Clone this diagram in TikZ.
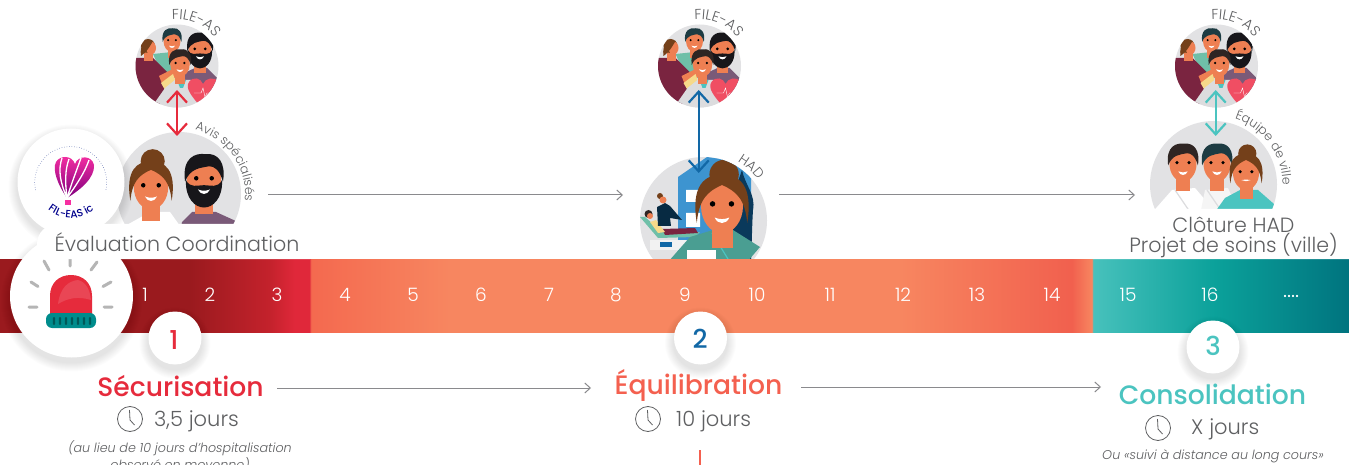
\documentclass[tikz,border=0pt]{standalone}
\usepackage{fontspec}
\setmainfont{Poppins Light}[ItalicFont={Poppins Light Italic},BoldFont={Poppins Medium}]
\usetikzlibrary{arrows.meta,decorations.text}
\definecolor{cgray}{HTML}{5F6062}
\definecolor{cline}{HTML}{8A8A8D}
\definecolor{cdisc}{HTML}{E2E2E4}
\definecolor{cred}{HTML}{E62B3C}
\definecolor{corange}{HTML}{F4604F}
\definecolor{cteal}{HTML}{4BC4C0}
\definecolor{cblue}{HTML}{1268A6}
\definecolor{cskin}{HTML}{EE7F52}
\definecolor{cbrown}{HTML}{74401A}
\definecolor{cblack}{HTML}{17161A}
\definecolor{cdark}{HTML}{2F2523}
\definecolor{cdteal}{HTML}{1D3B42}
\definecolor{cbord}{HTML}{7A2440}
\definecolor{cpurp}{HTML}{7A5A78}
\definecolor{cmint}{HTML}{6FBFA8}
\definecolor{ccoat}{HTML}{DCDCDE}
\definecolor{cheart}{HTML}{F04E63}
\definecolor{cnurse}{HTML}{4A9E92}
\definecolor{cbuild}{HTML}{3D94D0}
\definecolor{cyell}{HTML}{F6D98A}
\definecolor{bA}{HTML}{9A1A1E}
\definecolor{bB}{HTML}{C4222C}
\definecolor{bC}{HTML}{E0283A}
\definecolor{bD}{HTML}{F4694F}
\definecolor{bE}{HTML}{F78660}
\definecolor{bF}{HTML}{F1604E}
\definecolor{bG}{HTML}{47C1BC}
\definecolor{bH}{HTML}{0BA19A}
\definecolor{bI}{HTML}{00747F}
\definecolor{cray}{HTML}{B5B5B5}
\pgfdeclarehorizontalshading{barshade}{100bp}{
  color(0bp)=(bA); color(32.04bp)=(bA); color(35.01bp)=(bB); color(35.93bp)=(bC); color(36.49bp)=(bC);
  color(36.51bp)=(bD); color(41.68bp)=(bE); color(58.36bp)=(bE); color(64.73bp)=(bF); color(65.47bp)=(bE);
  color(65.51bp)=(bG); color(70.03bp)=(bH); color(75bp)=(bI); color(100bp)=(bI)}
\tikzset{
  x=1pt,y=-1pt,
  flow/.style={draw=cline,line width=1pt,-{Straight Barb[length=5.5pt,width=10pt]}},
  dbl/.style={line width=2.2pt,{Straight Barb[length=11pt,width=20pt]}-{Straight Barb[length=11pt,width=20pt]}},
  num/.style={text=white,font=\fontsize{18.5}{18.5}\selectfont,inner sep=0pt},
  labeltext/.style={text=cgray,font=\fontsize{20.6}{20}\selectfont,inner sep=0pt,align=center},
  titletext/.style={font=\bfseries\fontsize{26.6}{28}\selectfont,inner sep=0pt},
  daytext/.style={text=cgray,font=\fontsize{21}{22}\selectfont,inner sep=0pt,anchor=west},
  notetext/.style={text=cgray,font=\itshape\fontsize{12.7}{14}\selectfont,inner sep=0pt},
  stepnum/.style={font=\bfseries\fontsize{26}{26}\selectfont,inner sep=0pt},
}
\newcommand\softdisc[3]{%
  \foreach \i in {1,...,9}{\fill[black,opacity=0.011] (#1,#2+5) circle[radius=#3pt+10pt-\i pt];}
  \fill[white] (#1,#2) circle[radius=#3pt];}
\newcommand\manhead[5]{%
  \begin{scope}[shift={(#1,#2)},scale=#3]
    \fill[cskin] (-5,8) rectangle (5,20);
    \fill[cskin] (0,0) ellipse[x radius=10pt,y radius=13pt];
    \ifnum#5=1
      \fill[cblack] (-10.5,0) .. controls (-11,11) and (-5,16) .. (0,16) .. controls (5,16) and (11,11) .. (10.5,0) .. controls (8,5) and (4,3) .. (0,3) .. controls (-4,3) and (-8,5) .. (-10.5,0) -- cycle;
    \fi
    \fill[#4] (-11,1) .. controls (-13,-13) and (-5,-16) .. (1,-15) .. controls (8,-16) and (13,-10) .. (11,1) .. controls (9,-6) and (6,-8) .. (3,-8) .. controls (-2,-7) and (-8,-7) .. (-11,1) -- cycle;
    \fill[black] (-4.5,-1) circle[radius=1.3pt] (4.5,-1) circle[radius=1.3pt];
    \fill[white] (-3.5,5.5) .. controls (-1,6.5) and (1,6.5) .. (3.5,5.5) .. controls (2,9) and (-2,9) .. (-3.5,5.5) -- cycle;
  \end{scope}}
\newcommand\womanhead[5]{%
  \begin{scope}[shift={(#1,#2)},scale=#3]
    \fill[cbrown] (1,-15) circle[radius=7pt];
    \fill[cskin] (-5,8) rectangle (5,20);
    \fill[cskin] (0,0) ellipse[x radius=10pt,y radius=13pt];
    \fill[cbrown] (-12,8) .. controls (-15,-10) and (-8,-15) .. (0,-15) .. controls (8,-15) and (15,-10) .. (12,8) .. controls (11,-3) and (7,-7) .. (0,-10) .. controls (-7,-7) and (-11,-3) .. (-12,8) -- cycle;
    \fill[black] (-4.5,-1) circle[radius=1.3pt] (4.5,-1) circle[radius=1.3pt];
    \fill[#4] (-3.5,5.5) .. controls (-1,6.5) and (1,6.5) .. (3.5,5.5) .. controls (2,#5) and (-2,#5) .. (-3.5,5.5) -- cycle;
  \end{scope}}
\newcommand\groupdisc[2]{%
  \begin{scope}[shift={(#1,#2)}]
    \fill[cdisc] (0,0) circle[radius=41.5pt];
    \begin{scope}
      \clip (0,0) circle[radius=41.5pt];
      \fill[cmint] (-24,-12) -- (-5,-14) -- (8,-6) -- (10,10) -- (-12,14) -- cycle;
      \manhead{-5}{-25}{0.85}{cdteal}{0}
      \fill[cbord] (-43,-8) -- (-24,-8) -- (-10,6) -- (-6,14) -- (-18,42) -- (-43,42) -- cycle;
      \fill[cskin] (-24,-14) rectangle (-33,-5);
      \fill[cbrown] (-29,-20) circle[radius=7pt];
      \fill[cskin] (-26,-18) ellipse[x radius=5pt,y radius=6.5pt];
      \fill[cbrown] (-36,-10) .. controls (-38,-22) and (-30,-27) .. (-24,-25) .. controls (-27,-20) and (-30,-14) .. (-36,-10) -- cycle;
      \fill[cpurp] (5,8) -- (18,2) -- (30,2) -- (42,14) -- (42,30) -- (10,32) -- cycle;
      \manhead{23}{-16}{1.15}{cblack}{1}
      \fill[cskin] (-18,10) -- (-2,2) -- (0,10) -- (-14,20) -- cycle;
      \fill[cyell] (-16,17) -- (-4,8) -- (-2,14) -- (-12,24) -- cycle;
      \fill[ccoat] (-26,42) -- (-12,22) -- (-2,14) -- (14,14) -- (24,30) -- (28,42) -- cycle;
      \fill[cteal] (0,14) -- (9,14) -- (6,22) -- (3,22) -- cycle;
      \manhead{3}{-2}{0.98}{cdark}{0}
      \fill[cheart] (25,42) .. controls (14,30) and (8,22) .. (12,16) .. controls (16,10) and (24,12) .. (26,18) .. controls (28,12) and (38,10) .. (41,16) .. controls (44,24) and (36,32) .. (25,42) -- cycle;
      \draw[white,line width=.4pt] (17,27) -- (24,27) -- (26,22) -- (28,31) -- (30,27) -- (37,27);
    \end{scope}
  \end{scope}}
\newcommand\curved[7]{%
  \path[decorate,decoration={text along path,text align=left,text={|\fontsize{#6}{#6}\selectfont\color{cgray}|#7}}]
    (#1,#2) ++(#4:#3pt) arc[start angle=#4,end angle=#5,radius=#3pt];}
\newcommand\clock[3]{%
  \begin{scope}[shift={(#2,#3)}]
    \coordinate (#1) at (0,0);
    \draw[cgray,line width=.8pt] (0,0) circle[radius=12.5pt];
    \draw[cgray,line width=.8pt] (-.5,-9) -- (0,1) -- (4.5,6);
  \end{scope}}
\begin{document}
\begin{tikzpicture}
\useasboundingbox (0,0) rectangle (1349,465);
\fill[white] (0,0) rectangle (1349,465);

\groupdisc{177}{66}
\groupdisc{699.5}{66}
\groupdisc{1216.5}{66}
\coordinate (faA) at (177,90);
\coordinate (faB) at (698.7,90);
\coordinate (faC) at (1215.7,90);

\fill[cdisc] (179,194) circle[radius=62pt];
\begin{scope}
  \clip (179,194) circle[radius=62pt];
  \fill[white] (118,260) -- (125,226) -- (150,212) -- (170,212) -- (190,240) -- (190,260) -- cycle;
  \fill[cpurp] (176,260) -- (182,222) -- (192,212) -- (216,212) -- (238,222) -- (240,260) -- cycle;
  \womanhead{151}{187}{1.72}{white}{9}
  \manhead{204}{180}{1.72}{cblack}{1}
\end{scope}
\coordinate (avA) at (177,136);
\curved{179}{194}{66}{76}{-14}{12.4}{Avis spécialisés}

\fill[cdisc] (703.5,220.5) circle[radius=63.5pt];
\begin{scope}
  \clip (703.5,220.5) circle[radius=63.5pt];
  \fill[cbuild] (678,177) -- (707,157) -- (727,160) -- (751,170) -- (751,259) -- (678,259) -- cycle;
  \fill[white] (686,190) rectangle (698,202) (686,213) rectangle (700,227);
  \fill[cblue!55!black] (742,170) .. controls (745,185) and (756,195) .. (753,210) .. controls (752,225) and (752,240) .. (751,259) -- (730,259) -- (735,190) -- cycle;
  \fill[cmint] (640,217) -- (645,217) -- (662,232) -- (700,232) -- (695,237) -- (658,238) -- cycle;
  \fill[white!90!gray] (650,240) rectangle (700,250);
  \fill[cbord] (662,229) -- (695,228) -- (698,233) -- (665,235) -- cycle;
  \fill[cyell] (650,222) -- (656,220) -- (665,232) -- (658,233) -- cycle;
  \fill[cdark] (648.5,214) circle[radius=4pt];
  \fill[cskin] (650,216) circle[radius=3pt];
  \fill[cblue!40!black] (657,207) -- (665,203) -- (670,206) -- (682,220) -- (670,218) -- (671,226) -- (658,226) -- cycle;
  \fill[cbrown] (660,196) circle[radius=3pt];
  \fill[cskin] (663,200) circle[radius=3.5pt];
  \fill[cblue] (660,242) rectangle (672,247);
  \fill[cnurse] (668,262) -- (690,237) -- (713,230) -- (733,230) -- (760,247) -- (747,262) -- cycle;
  \fill[white] (687,250) rectangle (716,262);
  \draw[cteal,line width=1.2pt] (712,233) -- (728,259);
  \womanhead{722}{206}{2.1}{white}{9}
\end{scope}
\coordinate (hadA) at (698.7,173);
\curved{703.5}{220.5}{68}{60}{25}{13.5}{HAD}

\fill[cdisc] (1213.5,184.5) circle[radius=63.5pt];
\begin{scope}
  \clip (1213.5,184.5) circle[radius=63.5pt];
  \fill[white] (1150,215) -- (1172,190) -- (1195,188) -- (1218,215) -- cycle;
  \fill[white!92!gray] (1200,215) -- (1205,190) -- (1228,188) -- (1240,215) -- cycle;
  \draw[ccoat,line width=1.2pt] (1175,190) -- (1190,212) (1207,190) -- (1222,212);
  \manhead{1183}{164}{1.35}{cdark}{0}
  \manhead{1217}{164}{1.35}{cdteal}{0}
  \fill[cteal] (1215,212) -- (1225,198) -- (1240,190) -- (1258,190) -- (1274,204) -- (1276,212) -- cycle;
  \womanhead{1246}{173}{1.3}{white}{5}
\end{scope}
\coordinate (viA) at (1215.7,136);
\curved{1213.5}{184.5}{69}{72}{-12}{12.4}{Équipe de ville}

\curved{177}{66}{47}{96}{15}{14.3}{FILE-AS}
\curved{699.5}{66}{47}{96}{15}{14.3}{FILE-AS}
\curved{1216.5}{66}{47}{96}{15}{14.3}{FILE-AS}

\shade[shading=barshade] (0,259) rectangle (1349,332);
\foreach \n/\px in {1/145,2/210,3/277,4/345,5/413,6/481,7/549,8/616,9/685,10/757,11/830,12/903,13/977,14/1052,15/1128,16/1210}{
  \node[num] (d\n) at (\px,295) {\n};
}
\node[num] (dmore) at (1291,296) {\fontsize{22}{22}\selectfont ....};

\softdisc{71}{182}{53.5}
\shade[top color=cheart!60!magenta,bottom color=violet]
  (67,198) .. controls (58,185) and (52,170) .. (56,162) .. controls (60,155) and (72,155) .. (75,164) .. controls (78,155) and (92,155) .. (94,165) .. controls (95,178) and (80,190) .. (67,198) -- cycle;
\draw[white,line width=1.3pt] (67,198) .. controls (60,182) and (58,170) .. (62,158)
  (67,198) .. controls (65,182) and (65,170) .. (69,159)
  (67,198) .. controls (72,182) and (76,172) .. (81,158)
  (67,198) .. controls (77,184) and (85,172) .. (89,160);
\fill[cheart!60!magenta] (64.5,200) rectangle (71,205);
\draw[cblue!70!violet,line width=.5pt,dotted] (35.5,190) arc[start angle=192,end angle=-12,radius=36pt];
\path[decorate,decoration={text along path,text align=center,text={|\bfseries\fontsize{10.5}{10.5}\selectfont\color{blue!55!black}|FIL-EAS ic}}]
  (71,182) ++(225:36pt) arc[start angle=225,end angle=315,radius=36pt];

\fill[white] (1093,259) [rounded corners=30pt] -- (1093,209) -- (1372,209) [sharp corners] -- (1372,259) -- cycle;
\node[labeltext] (lclose) at (1233.5,237.5) {Clôture HAD\\Projet de soins (ville)};

\softdisc{71.5}{296}{61.5}
\draw[cray,line width=3pt,line cap=round] (29,307) -- (37,307) (31,282) -- (38,286.5) (44,261) -- (49,270) (70,258) -- (70,266) (97,262) -- (91,270) (111,282) -- (103,286.5) (104,307) -- (112,307);
\fill[cred] (50,315) -- (50,296) .. controls (50,283) and (59,275) .. (71,275) .. controls (83,275) and (92,283) .. (92,296) -- (92,315) -- cycle;
\fill[white,opacity=.13] (58,304) .. controls (60,288) and (68,281) .. (78,280) .. controls (86,282) and (90,290) .. (91,300) .. controls (78,296) and (68,298) .. (58,304) -- cycle;
\fill[teal!90!cyan,rounded corners=6pt] (46,313) rectangle (96,328);
\foreach \rx in {54,60,66,72,78,84,90}{\fill[teal!70!black,rounded corners=1pt] (\rx-1.2,317) rectangle (\rx+1.2,325);}
\fill[white] (37,259) [rounded corners=20pt] -- (37,224) -- (310,224) [sharp corners] -- (310,259) -- cycle;
\node[labeltext] (leval) at (177,242) {Évaluation Coordination};

\softdisc{175}{338}{26.5}
\softdisc{700.5}{338}{26.5}
\softdisc{1213}{347}{26.5}
\node[stepnum,text=cred] (n1) at (174,340) {1};
\node[stepnum,text=cblue] (n2) at (700,339) {2};
\node[stepnum,text=cteal] (n3) at (1213,346) {3};

\node[titletext,text=cred] (t1) at (180.5,386) {Sécurisation};
\node[titletext,text=corange] (t2) at (698.5,385) {Équilibration};
\node[titletext,text=cteal] (t3) at (1212.5,394) {Consolidation};
\clock{c1}{130}{419}
\clock{c2}{648}{419}
\clock{c3}{1158}{428}
\node[daytext] (j1) at (154,421) {3,5 jours};
\node[daytext] (j2) at (676,421) {10 jours};
\node[daytext] (j3) at (1191,429) {X jours};
\node[notetext] (note1) at (180,448) {(au lieu de 10 jours d'hospitalisation};
\node[notetext] (note1b) at (180,465) {observé en moyenne)};
\node[notetext] (note3) at (1213,456) {Ou «suivi à distance au long cours»};

\coordinate (a1) at (268,195); \coordinate (a2) at (623,195);
\coordinate (a3) at (779,195); \coordinate (a4) at (1135,195);
\coordinate (b1) at (277,388); \coordinate (b2) at (591,388);
\coordinate (b3) at (801,387); \coordinate (b4) at (1101,387);
\draw[flow] (a1) -- (a2);
\draw[flow] (a3) -- (a4);
\draw[flow] (b1) -- (b2);
\draw[flow] (b3) -- (b4);
\draw[dbl,cred] (faA) -- (avA);
\draw[dbl,cblue] (faB) -- (hadA);
\draw[dbl,cteal] (faC) -- (viA);
\coordinate (v1) at (700,450); \coordinate (v2) at (700,466);
\draw[corange,line width=2.4pt] (v1) -- (v2);
\end{tikzpicture}
\end{document}
